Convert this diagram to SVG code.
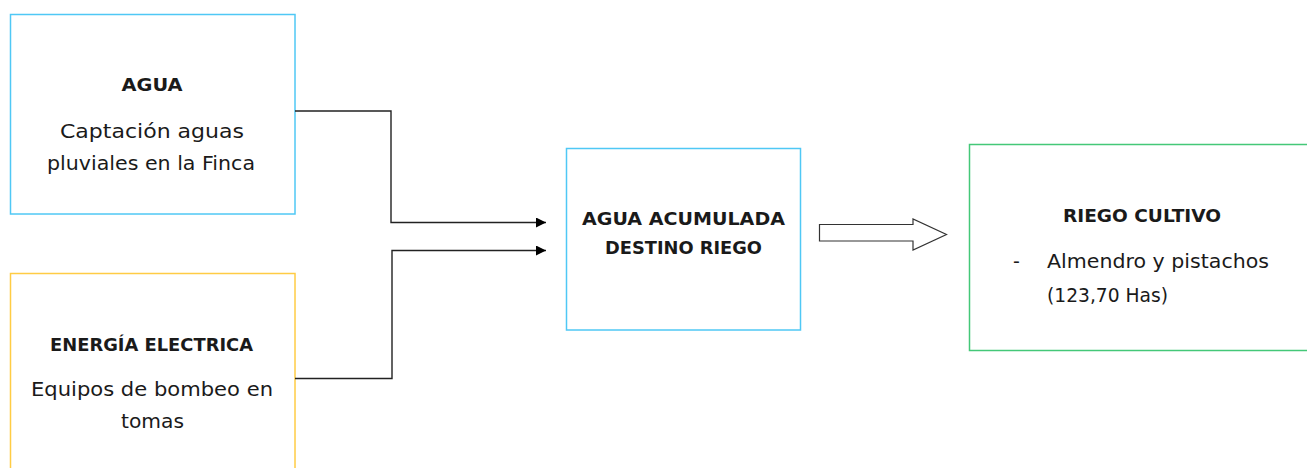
<svg xmlns="http://www.w3.org/2000/svg" width="1307" height="468" viewBox="0 0 1307 468">
<style>
.box{fill:#ffffff;stroke-width:1.5}
.t{font-family:"DejaVu Sans","Liberation Sans",sans-serif;font-size:19px;fill:#1a1a1a;text-anchor:middle}
.b{font-weight:bold;font-size:18px}
.l{text-anchor:start}
.c{fill:none;stroke:#222;stroke-width:1.4}
</style>
<defs>
<marker id="ah" viewBox="0 0 10 10" refX="10" refY="5" markerWidth="10" markerHeight="10" markerUnits="userSpaceOnUse" orient="auto">
<path d="M0,0 L10,5 L0,10 z" fill="#000"/>
</marker>
</defs>
<rect width="1307" height="468" fill="#ffffff"/>
<g id="agua">
<rect class="box" x="10.5" y="14.5" width="284.5" height="199.5" stroke="#4FC8F5"/>
<text class="t b" x="152" y="91" textLength="61" lengthAdjust="spacingAndGlyphs">AGUA</text>
<text class="t" x="152" y="138" textLength="184" lengthAdjust="spacingAndGlyphs">Captación aguas</text>
<text class="t" x="151" y="170" textLength="208" lengthAdjust="spacingAndGlyphs">pluviales en la Finca</text>
</g>
<g id="energia">
<rect class="box" x="10.5" y="273.5" width="284.5" height="200" stroke="#FFCC44"/>
<text class="t b" x="151.5" y="351" textLength="203" lengthAdjust="spacingAndGlyphs">ENERGÍA ELECTRICA</text>
<text class="t" x="152" y="396" textLength="242" lengthAdjust="spacingAndGlyphs">Equipos de bombeo en</text>
<text class="t" x="152.5" y="428" textLength="63" lengthAdjust="spacingAndGlyphs">tomas</text>
</g>
<g id="acumulada">
<rect class="box" x="566.5" y="148.5" width="234" height="181.5" stroke="#4FC8F5"/>
<text class="t b" x="683.5" y="225" textLength="203" lengthAdjust="spacingAndGlyphs">AGUA ACUMULADA</text>
<text class="t b" x="683.5" y="254" textLength="157" lengthAdjust="spacingAndGlyphs">DESTINO RIEGO</text>
</g>
<g id="riego">
<rect class="box" x="969.5" y="144.5" width="345" height="206" stroke="#44C878"/>
<text class="t b" x="1142" y="222" textLength="158" lengthAdjust="spacingAndGlyphs">RIEGO CULTIVO</text>
<text class="t l" x="1013" y="268">-</text>
<text class="t l" x="1047" y="268" textLength="222" lengthAdjust="spacingAndGlyphs">Almendro y pistachos</text>
<text class="t l" x="1047" y="302" textLength="121" lengthAdjust="spacingAndGlyphs">(123,70 Has)</text>
</g>
<g id="connectors">
<path class="c" d="M295,111 H391 V222.5 H546" marker-end="url(#ah)"/>
<path class="c" d="M295,378.5 H392 V250.5 H546" marker-end="url(#ah)"/>
<path d="M819.5,224.5 H913 V219 L946.5,234.5 L913,250 V241 H819.5 Z" fill="#ffffff" stroke="#333" stroke-width="1.2"/>
</g>
</svg>
